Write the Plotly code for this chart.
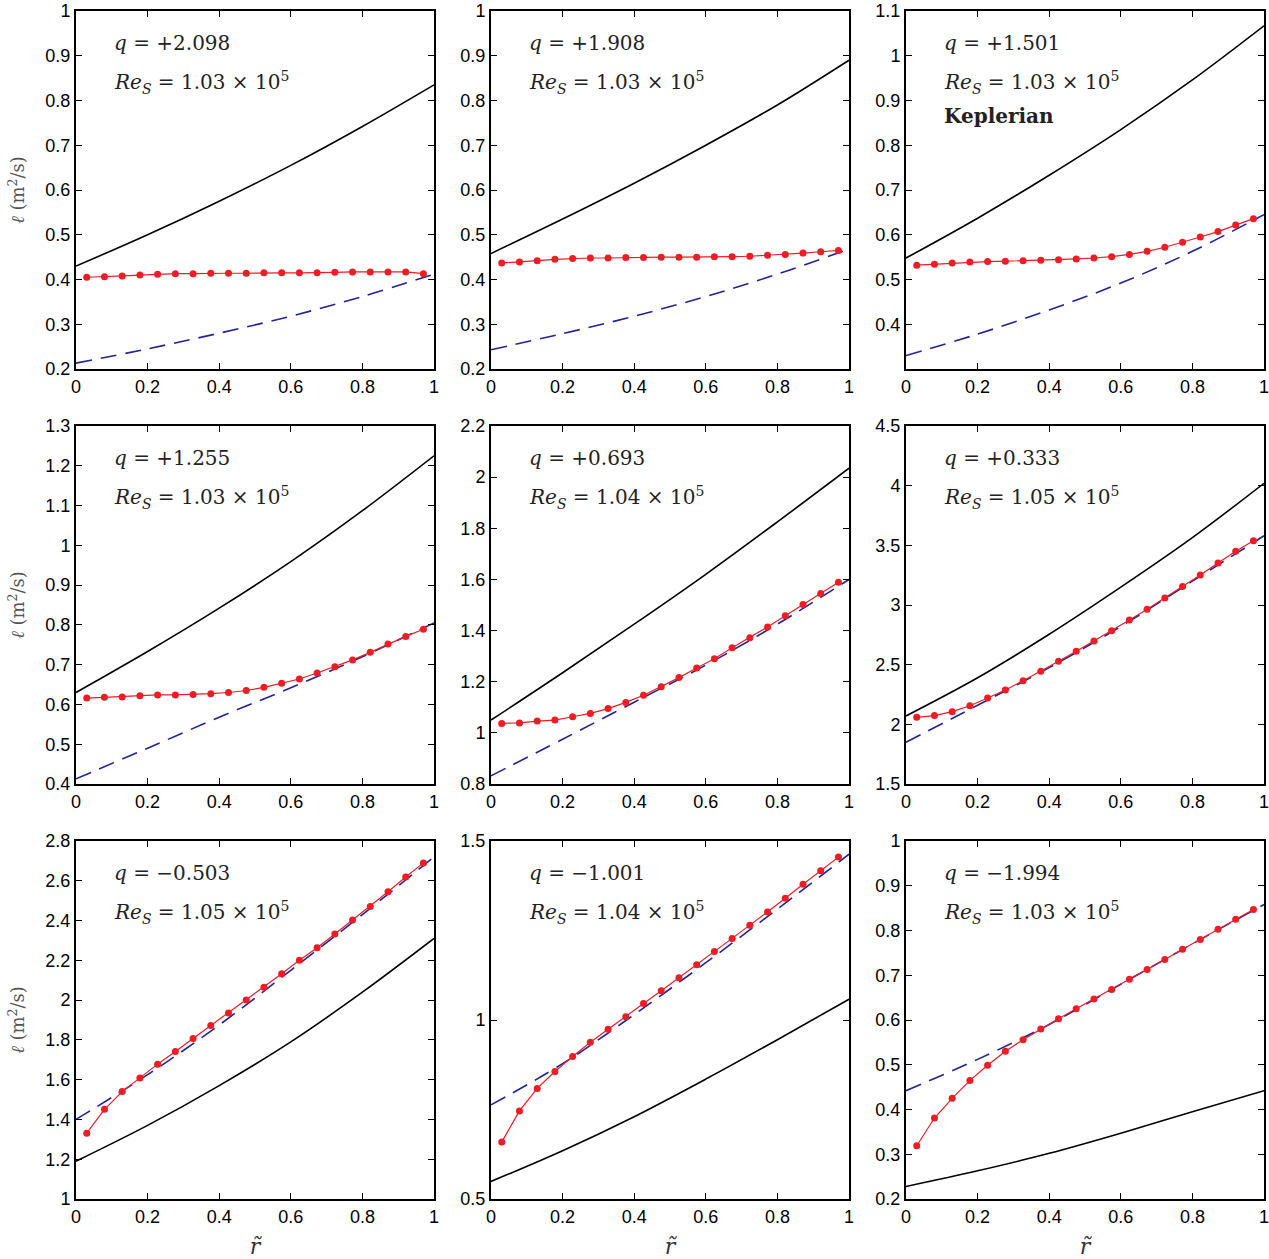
import plotly.graph_objects as go

# ---------------- data ----------------
r_pts = [0.03, 0.0795, 0.129, 0.1785, 0.228, 0.2775, 0.327, 0.3765, 0.426, 0.4755,
         0.525, 0.5745, 0.624, 0.6735, 0.723, 0.7725, 0.822, 0.8715, 0.921, 0.9705]
r_curve = [0.0, 0.2, 0.4, 0.6, 0.8, 1.0]

q_labels = ["+2.098", "+1.908", "+1.501", "+1.255", "+0.693", "+0.333",
            "\u22120.503", "\u22121.001", "\u22121.994"]
re_labels = ["1.03", "1.03", "1.03", "1.03", "1.04", "1.05", "1.05", "1.04", "1.03"]

meas_1 = [0.405, 0.406, 0.408, 0.410, 0.412, 0.413, 0.413, 0.414, 0.414, 0.414,
          0.415, 0.415, 0.415, 0.415, 0.416, 0.417, 0.417, 0.417, 0.417, 0.413]
meas_2 = [0.437, 0.439, 0.442, 0.445, 0.447, 0.448, 0.448, 0.449, 0.449, 0.450,
          0.450, 0.450, 0.451, 0.451, 0.452, 0.454, 0.456, 0.459, 0.462, 0.465]
meas_3 = [0.532, 0.534, 0.537, 0.539, 0.540, 0.541, 0.542, 0.543, 0.544, 0.546,
          0.548, 0.551, 0.556, 0.563, 0.572, 0.583, 0.595, 0.607, 0.622, 0.636]
meas_4 = [0.616, 0.618, 0.619, 0.622, 0.624, 0.624, 0.625, 0.627, 0.630, 0.635,
          0.643, 0.653, 0.664, 0.679, 0.695, 0.712, 0.731, 0.752, 0.771, 0.789]
meas_5 = [1.037, 1.039, 1.046, 1.050, 1.063, 1.076, 1.095, 1.119, 1.147, 1.180,
          1.216, 1.254, 1.290, 1.333, 1.372, 1.414, 1.458, 1.502, 1.545, 1.589]
meas_6 = [2.059, 2.073, 2.106, 2.156, 2.221, 2.288, 2.366, 2.444, 2.528, 2.612,
          2.698, 2.785, 2.874, 2.964, 3.059, 3.154, 3.251, 3.352, 3.450, 3.539]
meas_7 = [1.331, 1.451, 1.540, 1.609, 1.678, 1.742, 1.807, 1.872, 1.935, 2.000,
          2.065, 2.133, 2.200, 2.263, 2.332, 2.403, 2.471, 2.545, 2.619, 2.690]
meas_8 = [0.659, 0.746, 0.809, 0.856, 0.898, 0.938, 0.974, 1.009, 1.046, 1.082,
          1.118, 1.154, 1.191, 1.228, 1.265, 1.302, 1.340, 1.379, 1.417, 1.455]
meas_9 = [0.319, 0.381, 0.425, 0.465, 0.499, 0.530, 0.556, 0.580, 0.603, 0.625,
          0.647, 0.668, 0.691, 0.713, 0.735, 0.758, 0.780, 0.803, 0.825, 0.847]

ideal_1 = [0.430, 0.500, 0.575, 0.655, 0.742, 0.835]
ideal_2 = [0.458, 0.535, 0.615, 0.700, 0.790, 0.890]
ideal_3 = [0.548, 0.637, 0.733, 0.835, 0.946, 1.067]
ideal_4 = [0.630, 0.733, 0.842, 0.959, 1.087, 1.225]
ideal_5 = [1.050, 1.235, 1.425, 1.620, 1.825, 2.035]
ideal_6 = [2.070, 2.390, 2.755, 3.150, 3.565, 4.020]
ideal_7 = [1.190, 1.370, 1.570, 1.790, 2.040, 2.310]
ideal_8 = [0.549, 0.635, 0.730, 0.835, 0.945, 1.058]
ideal_9 = [0.228, 0.263, 0.302, 0.347, 0.395, 0.442]

fit_1 = [0.213, 0.245, 0.280, 0.318, 0.362, 0.412]
fit_2 = [0.243, 0.279, 0.318, 0.362, 0.412, 0.468]
fit_3 = [0.330, 0.378, 0.432, 0.492, 0.563, 0.645]
fit_4 = [0.413, 0.490, 0.568, 0.642, 0.720, 0.805]
fit_5 = [0.832, 0.975, 1.120, 1.265, 1.425, 1.600]
fit_6 = [1.850, 2.160, 2.475, 2.820, 3.200, 3.580]
fit_7 = [1.400, 1.625, 1.875, 2.150, 2.430, 2.720]
fit_8 = [0.763, 0.878, 1.015, 1.160, 1.310, 1.463]
fit_9 = [0.442, 0.512, 0.590, 0.680, 0.770, 0.858]

y_ranges = [[0.2, 1.0], [0.2, 1.0], [0.3, 1.1], [0.4, 1.3], [0.8, 2.2],
            [1.5, 4.5], [1.0, 2.8], [0.5, 1.5], [0.2, 1.0]]
y_ticks = [
    [0.2, 0.3, 0.4, 0.5, 0.6, 0.7, 0.8, 0.9, 1.0],
    [0.2, 0.3, 0.4, 0.5, 0.6, 0.7, 0.8, 0.9, 1.0],
    [0.4, 0.5, 0.6, 0.7, 0.8, 0.9, 1.0, 1.1],
    [0.4, 0.5, 0.6, 0.7, 0.8, 0.9, 1.0, 1.1, 1.2, 1.3],
    [0.8, 1.0, 1.2, 1.4, 1.6, 1.8, 2.0, 2.2],
    [1.5, 2.0, 2.5, 3.0, 3.5, 4.0, 4.5],
    [1.0, 1.2, 1.4, 1.6, 1.8, 2.0, 2.2, 2.4, 2.6, 2.8],
    [0.5, 1.0, 1.5],
    [0.2, 0.3, 0.4, 0.5, 0.6, 0.7, 0.8, 0.9, 1.0],
]
x_ticks = [0, 0.2, 0.4, 0.6, 0.8, 1.0]

measured = [meas_1, meas_2, meas_3, meas_4, meas_5, meas_6, meas_7, meas_8, meas_9]
ideal = [ideal_1, ideal_2, ideal_3, ideal_4, ideal_5, ideal_6, ideal_7, ideal_8, ideal_9]
fits = [fit_1, fit_2, fit_3, fit_4, fit_5, fit_6, fit_7, fit_8, fit_9]

# ---------------- layout geometry ----------------
W, H = 1269, 1259
col_px = [(76, 434), (491, 849), (906, 1264)]
row_px = [(11, 369), (426, 784), (841, 1199)]


def fmt(v):
    s = ("%.2f" % v).rstrip("0").rstrip(".")
    return s


fig = go.Figure()
layout = dict(
    width=W, height=H, margin=dict(l=0, r=0, t=0, b=0, autoexpand=False),
    paper_bgcolor="white", plot_bgcolor="white", showlegend=False,
    font=dict(family="Liberation Sans, Arial, sans-serif", size=18, color="black"),
)
annotations = []

serif = "DejaVu Serif, serif"

for i in range(9):
    row, col = divmod(i, 3)
    n = i + 1
    xa = "x" if n == 1 else f"x{n}"
    ya = "y" if n == 1 else f"y{n}"
    xkey = "xaxis" if n == 1 else f"xaxis{n}"
    ykey = "yaxis" if n == 1 else f"yaxis{n}"
    x0, x1 = col_px[col]
    t0, t1 = row_px[row]

    axis_common = dict(showline=True, linecolor="black", linewidth=2, mirror="ticks",
                       ticks="inside", ticklen=6, tickwidth=1.2, tickcolor="black",
                       showgrid=False, zeroline=False, automargin=False,
                       ticklabeloverflow="allow",
                       tickfont=dict(family="Liberation Sans, Arial, sans-serif", size=18, color="black"))
    layout[xkey] = dict(axis_common, domain=[x0 / W, x1 / W], anchor=ya, range=[0, 1],
                        tickvals=x_ticks, ticktext=[fmt(v) for v in x_ticks])
    layout[ykey] = dict(axis_common, domain=[1 - t1 / H, 1 - t0 / H], anchor=xa,
                        range=y_ranges[i], tickvals=y_ticks[i],
                        ticktext=[fmt(v) for v in y_ticks[i]])
    if row == 2:
        layout[xkey]["title"] = dict(text="<i>r\u0303</i>", standoff=13,
                                     font=dict(family=serif, size=22, color="#333333"))
    if col == 0:
        layout[ykey]["title"] = dict(text="<i>\u2113</i> (m<sup>2</sup>/s)", standoff=16,
                                     font=dict(family=serif, size=18, color="#555555"))

    fig.add_trace(go.Scatter(x=r_curve, y=ideal[i], mode="lines", xaxis=xa, yaxis=ya,
                             line=dict(color="black", width=1.6, shape="spline", smoothing=1.0)))
    fig.add_trace(go.Scatter(x=r_curve, y=fits[i], mode="lines", xaxis=xa, yaxis=ya,
                             line=dict(color="#22229a", width=1.6, dash="16px,9px",
                                       shape="spline", smoothing=1.0)))
    fig.add_trace(go.Scatter(x=r_pts, y=measured[i], mode="lines+markers", xaxis=xa, yaxis=ya,
                             line=dict(color="#ee1c24", width=1.2),
                             marker=dict(color="#ee1c24", size=7, line=dict(width=0))))

    xref = f"{xa} domain"
    yref = f"{ya} domain"
    annotations.append(dict(x=0.1, y=0.912, xref=xref, yref=yref, xanchor="left", yanchor="middle",
                            showarrow=False, text=f"<i>q</i> = {q_labels[i]}",
                            font=dict(family=serif, size=20, color="#222222")))
    annotations.append(dict(x=0.1, y=0.80, xref=xref, yref=yref, xanchor="left", yanchor="middle",
                            showarrow=False,
                            text=f"<i>Re</i><sub><i>S</i></sub> = {re_labels[i]} \u00d7 10<sup>5</sup>",
                            font=dict(family=serif, size=20, color="#222222")))
    if i == 2:
        annotations.append(dict(x=0.1, y=0.707, xref=xref, yref=yref, xanchor="left",
                                yanchor="middle", showarrow=False, text="<b>Keplerian</b>",
                                font=dict(family=serif, size=20, color="#222222")))

layout["annotations"] = annotations
fig.update_layout(**layout)
fig.write_html("out.html", config={"displayModeBar": False},
               post_script="document.body.style.margin='0';document.body.style.overflow='hidden';")
